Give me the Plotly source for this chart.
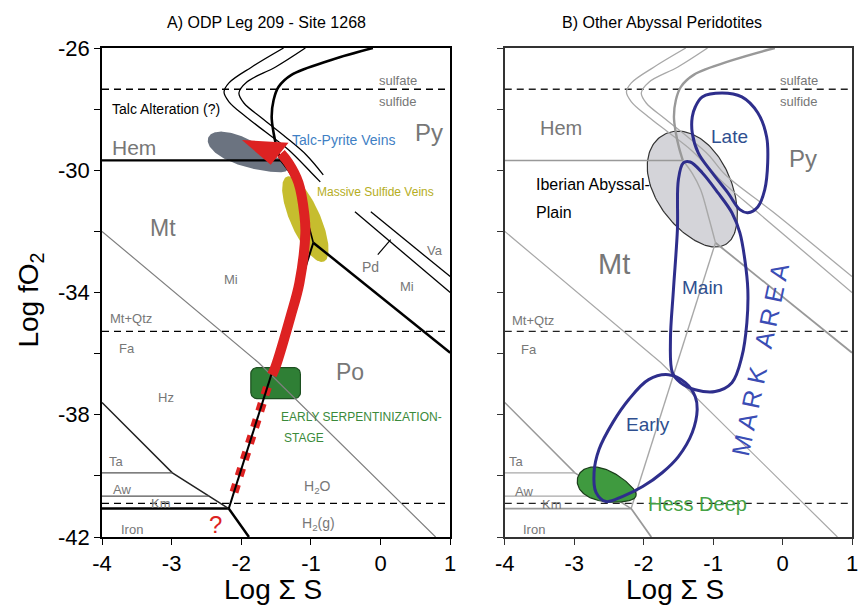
import numpy as np
import plotly.graph_objects as go

# ---------------- axes ----------------
X_RANGE = [-4, 1]
Y_RANGE = [-42, -26]
X_TICKS = [-4, -3, -2, -1, 0, 1]
X_TICKTEXT = ['-4', '-3', '-2', '-1', '0', '1']
Y_TICKS = [-42, -38, -34, -30, -26]
Y_TICKTEXT = ['-42', '-38', '-34', '-30', '-26']
Y_MINOR = [-40, -36, -32, -28]

# ---------------- phase boundaries (log S, log fO2) ----------------
# None marks where the line is hidden behind a label in panel A
C1_X = [-1.393, -1.849, -2.177, -2.248, -2.177, -1.934, -1.650, -1.322, -0.994, -0.866, None, -0.368, 1.0]
C1_Y = [-26.0, -26.62, -27.14, -27.44, -27.76, -28.25, -28.75, -29.33, -30.08, -30.38, None, -31.36, -34.0]
C2_X = [-1.080, -1.507, -1.920, -2.034, -1.963, -1.707, -1.365, -1.066, -0.823, None, -0.140, 1.0]
C2_Y = [-26.0, -26.62, -27.11, -27.47, -27.80, -28.29, -28.91, -29.50, -30.15, None, -31.36, -33.48]
PY_X = [-0.111, -0.709, -1.279, -1.464, -1.536, -1.564, -1.536, -1.493, -1.436]
PY_Y = [-26.0, -26.39, -26.88, -27.27, -27.70, -28.25, -28.78, -29.24, -29.68]
HEM_X = [-4, -1.436]
HEM_Y = [-29.68, -29.68]
MTPY_X = [-1.436, -1.30, -1.179, -1.066, -0.966]
MTPY_Y = [-29.68, -30.10, -30.64, -31.52, -32.37]
POPY_X = [-0.966, 1.0]
POPY_Y = [-32.37, -35.97]
MTPO_X = [-0.966, -2.18]
MTPO_Y = [-32.37, -41.07]
FE_X = [-4, -2.18, -1.89]
FE_Y = [-41.07, -41.07, -42.0]
HZTA_X = [-4, -2.99, -2.18]
HZTA_Y = [-37.6, -39.9, -41.07]
TA_X = [-4, -2.99]
TA_Y = [-39.9, -39.9]
AW_X = [-4, -2.46]
AW_Y = [-40.66, -40.66]
MTFA_X = [-4, -1.75, 0.79]
MTFA_Y = [-32.0, -36.3, -42.0]
PD_TICK_X = [-0.04, 0.145]
PD_TICK_Y = [-32.76, -32.27]
DASH_Y = [-27.35, -35.27, -40.9]

# ---------------- panel A marks ----------------
ARROW_X = [-1.56, -1.507, -1.293, -1.165, -1.080, -1.094, -1.179, -1.322, -1.43]
ARROW_Y = [-36.7, -36.42, -34.79, -33.68, -32.05, -31.46, -30.41, -29.76, -29.45]
HEAD_X = [-1.991, -1.322, -1.578]
HEAD_Y = [-29.01, -29.10, -29.82]
RED_DASH_X = [-1.626, -2.117]
RED_DASH_Y = [-37.1, -40.62]
GREEN_BOX = [-1.863, -1.151, -37.47, -36.46]   # x0, x1, y0, y1
TALC_ELL = [-1.906, -29.46, 0.613, 0.19, 22, 0.3]  # cx, cy, a, b, angle, egg
SULF_ELL = [-1.080, -31.60, 0.662, 0.215, 66, 0.0]

# ---------------- panel B marks ----------------
IBER_ELL = [-1.271, -30.64, 0.90, 0.54, 60, 0.12]
HESS_ELL = [-2.529, -40.35, 0.44, 0.22, 18, 0.3]
LATE_X = [-1.257, -1.157, -0.871, -0.586, -0.357, -0.229, -0.214, -0.257, -0.357, -0.5, -0.614, -0.786, -1.014, -1.214, -1.3, -1.3, -1.257]
LATE_Y = [-27.93, -27.60, -27.47, -27.60, -28.12, -28.91, -29.76, -30.64, -31.20, -31.39, -31.29, -30.74, -30.08, -29.43, -28.78, -28.25, -27.93]
MAIN_X = [-1.429, -1.329, -1.157, -0.929, -0.729, -0.614, -0.543, -0.5, -0.514, -0.586, -0.729, -0.971, -1.257, -1.471, -1.586, -1.614, -1.571, -1.514, -1.5, -1.429]
MAIN_Y = [-29.76, -29.73, -30.08, -30.74, -31.39, -32.05, -32.93, -33.91, -34.99, -36.10, -36.95, -37.24, -37.18, -36.95, -36.62, -35.54, -33.91, -31.95, -30.31, -29.76]
EARLY_X = [-1.643, -1.4, -1.257, -1.229, -1.3, -1.5, -1.729, -2.014, -2.3, -2.543, -2.686, -2.714, -2.643, -2.443, -2.214, -1.929, -1.643]
EARLY_Y = [-36.69, -36.95, -37.41, -37.83, -38.58, -39.37, -39.89, -40.35, -40.67, -40.84, -40.54, -39.89, -39.14, -38.25, -37.50, -36.85, -36.69]

REG = "Liberation Sans, Arial, sans-serif"
GREY_TXT = "#777777"

# label tables: text, x, y, size, color, xanchor
LEFT_LABELS = [
    ("sulfate", 0.245, -27.05, 13, GREY_TXT, "center"),
    ("sulfide", 0.245, -27.76, 13, GREY_TXT, "center"),
    ("Talc Alteration (?)", -3.088, -27.99, 14, "black", "center"),
    ("Hem", -3.544, -29.27, 21, GREY_TXT, "center"),
    ("Py", 0.70, -28.78, 24, GREY_TXT, "center"),
    ("Talc-Pyrite Veins", -0.538, -29.0, 14, "#3f7fc4", "center"),
    ("Massive Sulfide Veins", -0.068, -30.71, 12, "#b5ad22", "center"),
    ("Mt", -3.131, -31.88, 23, GREY_TXT, "center"),
    ("Mi", -2.148, -33.58, 13, GREY_TXT, "center"),
    ("Pd", -0.140, -33.16, 14, GREY_TXT, "center"),
    ("Va", 0.786, -32.63, 13, GREY_TXT, "center"),
    ("Mi", 0.373, -33.81, 13, GREY_TXT, "center"),
    ("Mt+Qtz", -3.915, -34.86, 13, GREY_TXT, "left"),
    ("Fa", -3.644, -35.84, 13, GREY_TXT, "center"),
    ("Po", -0.439, -36.59, 23, GREY_TXT, "center"),
    ("Hz", -3.074, -37.44, 13, GREY_TXT, "center"),
    ("EARLY SERPENTINIZATION-", -1.464, -38.06, 12, "#3a8a3a", "left"),
    ("STAGE", -1.422, -38.75, 12, "#3a8a3a", "left"),
    ("Ta", -3.786, -39.53, 13, GREY_TXT, "center"),
    ("Aw", -3.715, -40.44, 13, GREY_TXT, "center"),
    ("Km", -3.16, -40.9, 13, GREY_TXT, "center"),
    ("Iron", -3.573, -41.75, 13, GREY_TXT, "center"),
    ("?", -2.376, -41.59, 24, "#dd2222", "center"),
    ("H<sub>2</sub>O", -0.909, -40.38, 14, GREY_TXT, "center"),
    ("H<sub>2</sub>(g)", -0.894, -41.56, 14, GREY_TXT, "center"),
]
RIGHT_LABELS = [
    ("sulfate", 0.243, -27.05, 13, GREY_TXT, "center"),
    ("sulfide", 0.243, -27.76, 13, GREY_TXT, "center"),
    ("Hem", -3.186, -28.61, 20, GREY_TXT, "center"),
    ("Late", -0.757, -28.91, 19, "#2f4f8f", "center"),
    ("Py", 0.30, -29.63, 24, GREY_TXT, "center"),
    ("Iberian Abyssal-", -3.586, -30.48, 16, "black", "left"),
    ("Plain", -3.586, -31.39, 16, "black", "left"),
    ("Mt", -2.429, -33.06, 29, GREY_TXT, "center"),
    ("Main", -1.157, -33.84, 19, "#2f4f8f", "center"),
    ("Mt+Qtz", -3.929, -34.92, 13, GREY_TXT, "left"),
    ("Fa", -3.657, -35.87, 13, GREY_TXT, "center"),
    ("Early", -1.943, -38.32, 19, "#2f4f8f", "center"),
    ("Hess Deep", -1.229, -40.93, 20, "#45a245", "center"),
    ("Ta", -3.829, -39.53, 13, GREY_TXT, "center"),
    ("Aw", -3.729, -40.51, 13, GREY_TXT, "center"),
    ("Km", -3.314, -40.93, 13, GREY_TXT, "center"),
    ("Iron", -3.586, -41.75, 13, GREY_TXT, "center"),
]

# screen aspect: y-units per x-unit of equal on-screen length
ASPECT = (16 / 489) / (5 / 351)


def ellipse(p, n=160):
    cx, cy, a, b, ang, egg = p
    t = np.linspace(0, 2 * np.pi, n)
    u = a * np.cos(t)
    v = b * np.sin(t) * (1 - egg * np.cos(t))
    th = np.radians(ang)
    dx = u * np.cos(th) - v * np.sin(th)
    dy = u * np.sin(th) + v * np.cos(th)
    return cx + dx, cy - dy * ASPECT


def rounded_rect(box, r=0.085, n=10):
    x0, x1, y0, y1 = box
    ry = r * ASPECT
    xs, ys = [], []
    corners = [(x1 - r, y1 - ry, 0), (x0 + r, y1 - ry, 90), (x0 + r, y0 + ry, 180), (x1 - r, y0 + ry, 270)]
    for cx, cy, a0 in corners:
        for t in np.linspace(np.radians(a0), np.radians(a0 + 90), n):
            xs.append(cx + r * np.cos(t))
            ys.append(cy + ry * np.sin(t))
    xs.append(xs[0]); ys.append(ys[0])
    return xs, ys


def solid(v):
    return [p for p in v if p is not None]


fig = go.Figure()


def line(x, y, ax, color, width, shape="linear", dash=None):
    xa, ya = ("x", "y") if ax == 1 else ("x2", "y2")
    fig.add_trace(go.Scatter(x=x, y=y, mode="lines", xaxis=xa, yaxis=ya, connectgaps=False,
                             line=dict(color=color, width=width, shape=shape, dash=dash),
                             hoverinfo="skip", showlegend=False))


def fill(x, y, ax, fc, lc=None, lw=0, shape="linear"):
    xa, ya = ("x", "y") if ax == 1 else ("x2", "y2")
    fig.add_trace(go.Scatter(x=list(x), y=list(y), mode="lines", xaxis=xa, yaxis=ya, fill="toself",
                             fillcolor=fc, line=dict(color=lc or fc, width=lw, shape=shape),
                             hoverinfo="skip", showlegend=False))


# ================= Panel A =================
ex, ey = ellipse(TALC_ELL); fill(ex, ey, 1, "#6b7380")
ex, ey = ellipse(SULF_ELL); fill(ex, ey, 1, "#c6bd2e")
bx, by = rounded_rect(GREEN_BOX); fill(bx, by, 1, "#2f7f35", "#1c4f20", 1.2)
line(MTFA_X, MTFA_Y, 1, "#808080", 1.2)
for yv in DASH_Y:
    line(X_RANGE, [yv, yv], 1, "black", 1.3, dash="7px,5px")
line(C1_X, C1_Y, 1, "black", 1.3, "spline")
line(C2_X, C2_Y, 1, "black", 1.3, "spline")
line(PY_X, PY_Y, 1, "black", 2.6, "spline")
line(HEM_X, HEM_Y, 1, "black", 2.2)
line(MTPY_X, MTPY_Y, 1, "black", 1.6, "spline")
line(POPY_X, POPY_Y, 1, "black", 2.5)
line(FE_X, FE_Y, 1, "black", 2.5)
line(HZTA_X, HZTA_Y, 1, "#222222", 1.5)
line(TA_X, TA_Y, 1, "#555555", 1.2)
line(AW_X, AW_Y, 1, "#555555", 1.2)
line(PD_TICK_X, PD_TICK_Y, 1, "black", 1.2)
line(RED_DASH_X, RED_DASH_Y, 1, "#dd2222", 9, dash="8px,9px")
line(MTPO_X, MTPO_Y, 1, "black", 2.0)
line(ARROW_X, ARROW_Y, 1, "#dd2222", 10, "spline")
fill(HEAD_X + [HEAD_X[0]], HEAD_Y + [HEAD_Y[0]], 1, "#dd2222")

# ================= Panel B =================
ex, ey = ellipse(IBER_ELL); fill(ex, ey, 2, "#d4d4d9", "#333333", 1.2)
G1, G2 = "#a8a8a8", "#999999"
line(MTFA_X, MTFA_Y, 2, G1, 1.2)
for yv in DASH_Y:
    line(X_RANGE, [yv, yv], 2, "#222222", 1.3, dash="7px,5px")
line(solid(C1_X), solid(C1_Y), 2, G1, 1.3, "spline")
line(solid(C2_X), solid(C2_Y), 2, G1, 1.3, "spline")
line(PY_X, PY_Y, 2, G2, 2.4, "spline")
line(HEM_X, HEM_Y, 2, G2, 1.4)
line(MTPY_X, MTPY_Y, 2, G1, 1.4, "spline")
line(POPY_X, POPY_Y, 2, G2, 1.8)
line(MTPO_X, MTPO_Y, 2, G1, 1.4)
line(FE_X, FE_Y, 2, G2, 1.8)
line(HZTA_X, HZTA_Y, 2, G2, 1.5)
line(TA_X, TA_Y, 2, G1, 1.2)
line(AW_X, AW_Y, 2, G1, 1.2)
ex, ey = ellipse(HESS_ELL); fill(ex, ey, 2, "#3f9a3f", "#1b3d1b", 1.2)
BLUE = "#2e2e8c"
line(LATE_X, LATE_Y, 2, BLUE, 3, "spline")
line(MAIN_X, MAIN_Y, 2, BLUE, 3, "spline")
line(EARLY_X, EARLY_Y, 2, BLUE, 3, "spline")

# ================= annotations =================
ann = []
for (t, x, y, s, c, xa) in LEFT_LABELS:
    ann.append(dict(text=t, x=x, y=y, xref="x", yref="y", showarrow=False, xanchor=xa, yanchor="middle",
                    font=dict(size=s, color=c, family=REG)))
for (t, x, y, s, c, xa) in RIGHT_LABELS:
    ann.append(dict(text=t, x=x, y=y, xref="x2", yref="y2", showarrow=False, xanchor=xa, yanchor="middle",
                    font=dict(size=s, color=c, family=REG)))
ann.append(dict(text="M A R K   A R E A", x=-0.329, y=-36.2, xref="x2", yref="y2", showarrow=False,
                textangle=-78, font=dict(size=25, color="#3a4db5", family=REG)))
# titles
ann.append(dict(text="A) ODP Leg 209 - Site 1268", x=0.2196, y=1.053, xref="paper", yref="paper",
                xanchor="center", yanchor="middle", showarrow=False,
                font=dict(size=16, color="black", family=REG)))
ann.append(dict(text="B) Other Abyssal Peridotites", x=0.747, y=1.053, xref="paper", yref="paper",
                xanchor="center", yanchor="middle", showarrow=False,
                font=dict(size=16, color="black", family=REG)))
ann.append(dict(text="Log fO<sub>2</sub>", x=-0.095, y=0.485, xref="paper", yref="paper", textangle=-90,
                xanchor="center", yanchor="middle", showarrow=False,
                font=dict(size=28, color="black", family=REG)))
ann.append(dict(text="Log Σ S", x=0.2275, y=-0.108, xref="paper", yref="paper",
                xanchor="center", yanchor="middle", showarrow=False,
                font=dict(size=28, color="black", family=REG)))
ann.append(dict(text="Log Σ S", x=0.7646, y=-0.108, xref="paper", yref="paper",
                xanchor="center", yanchor="middle", showarrow=False,
                font=dict(size=28, color="black", family=REG)))

axis_common = dict(showgrid=False, zeroline=False, ticks="outside", ticklen=6, tickwidth=1.2,
                   mirror=True, showline=True, linewidth=1.5,
                   tickfont=dict(size=22, color="black", family=REG))


def minor(color):
    return dict(tickvals=Y_MINOR, ticks="outside", ticklen=6, tickwidth=1.2, tickcolor=color, showgrid=False)


fig.update_layout(
    width=859, height=609,
    margin=dict(l=102, r=1, t=48, b=72),
    plot_bgcolor="white", paper_bgcolor="white",
    annotations=ann,
    xaxis=dict(domain=[0, 0.4643], range=X_RANGE, tickvals=X_TICKS, ticktext=X_TICKTEXT, anchor="y",
               linecolor="black", tickcolor="black", **axis_common),
    yaxis=dict(domain=[0, 1], range=Y_RANGE, tickvals=Y_TICKS, ticktext=Y_TICKTEXT, anchor="x",
               linecolor="black", tickcolor="black", minor=minor("black"), **axis_common),
    xaxis2=dict(domain=[0.537, 1], range=X_RANGE, tickvals=X_TICKS, ticktext=X_TICKTEXT, anchor="y2",
                linecolor="#333333", tickcolor="#333333", **axis_common),
    yaxis2=dict(domain=[0, 1], range=Y_RANGE, tickvals=Y_TICKS, showticklabels=False, anchor="x2",
                linecolor="#333333", tickcolor="#333333", minor=minor("#333333"), **axis_common),
)

fig.write_html("out.html")
